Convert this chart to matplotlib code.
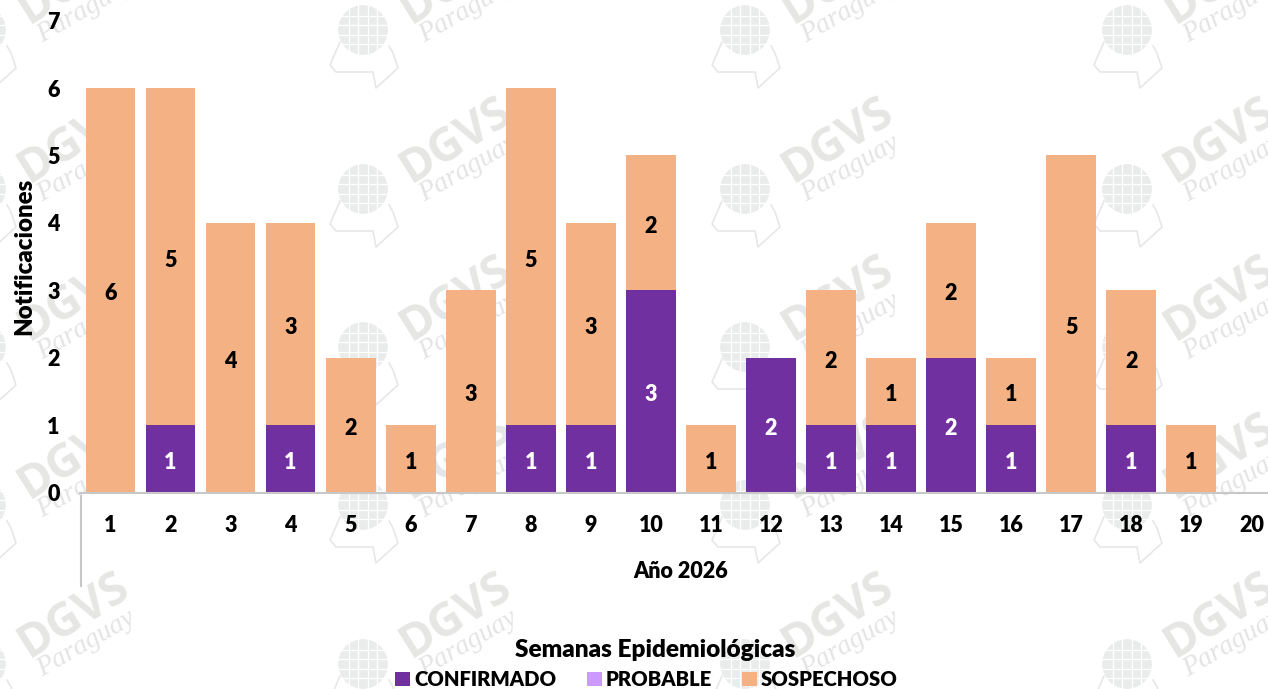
import matplotlib
matplotlib.use('Agg')
import matplotlib.pyplot as plt
from matplotlib.patches import Circle, Rectangle
import numpy as np

plt.rcParams['font.family'] = ['Lato', 'DejaVu Sans']
plt.rcParams['font.weight'] = 'heavy'

semanas = list(range(1, 21))
confirmado = [0, 1, 0, 1, 0, 0, 0, 1, 1, 3, 0, 2, 1, 1, 2, 1, 0, 1, 0, 0]
probable = [0] * 20
sospechoso = [6, 5, 4, 3, 2, 1, 3, 5, 3, 2, 1, 0, 2, 1, 2, 1, 5, 2, 1, 0]
leyenda = ['CONFIRMADO', 'PROBABLE', 'SOSPECHOSO']

COLOR_CONF = '#7030A0'
COLOR_PROB = '#CC99FF'
COLOR_SOSP = '#F4B183'
W, H = 1268, 689


def watermark(bg, cx, cy):
    # globe + map outline + texts, everything in pixels
    gray = '#e6e7e6'
    bg.add_patch(Circle((cx, cy), 25, fc='#eaebeb', ec='none'))
    for dx in (-14, -5, 5, 14):
        bg.plot([cx + dx, cx + dx], [cy - 25, cy + 25], color='white', lw=0.9)
    for dy in (-14, -5, 5, 14):
        bg.plot([cx - 25, cx + 25], [cy + dy, cy + dy], color='white', lw=0.9)
    bg.add_patch(Circle((cx, cy), 27, fc='none', ec='white', lw=3))
    ox = [-23, -33, -27, 10, 13, 35, 30, 26]
    oy = [12, 35, 42, 42, 58, 38, 23, 16]
    bg.plot(np.array(ox) + cx, np.array(oy) + cy, color=gray, lw=1.2)
    bg.text(cx + 93, cy - 49, 'DGVS', color='#e6e6e4', fontsize=33, rotation=32,
            ha='center', va='center', fontweight='bold', family='Open Sans')
    bg.text(cx + 105, cy - 20, 'Paraguay', color='#e4e4e4', fontsize=20, rotation=30,
            ha='center', va='center', fontweight='normal', style='italic',
            family='Liberation Serif')


fig = plt.figure(figsize=(W / 100, H / 100), dpi=100, facecolor='white')

bg = fig.add_axes([0, 0, 1, 1], zorder=0)
bg.set_xlim(0, W)
bg.set_ylim(H, 0)
bg.axis('off')
for gx in (-19, 363, 745, 1127):
    for gy in (30, 189, 347, 505, 664):
        watermark(bg, gx, gy)

# axes box: x 80..1268, y 20.6..492.5 px
ax = fig.add_axes([80.4 / W, 1 - 492.5 / H, (W - 80.4) / W, (492.5 - 20.6) / H], zorder=1)
ax.patch.set_alpha(0)

x = np.array(semanas)
conf = np.array(confirmado)
prob = np.array(probable)
sosp = np.array(sospechoso)
ancho = 0.83
ax.bar(x, conf, ancho, color=COLOR_CONF, edgecolor='none')
ax.bar(x, prob, ancho, bottom=conf, color=COLOR_PROB, edgecolor='none')
ax.bar(x, sosp, ancho, bottom=conf + prob, color=COLOR_SOSP, edgecolor='none')


def etiqueta(xv, yv, txt, color):
    ax.annotate(txt, (xv, yv), xytext=(0, -2.5), textcoords='offset points', color=color,
                ha='center', va='center', fontsize=15.5)


for i in range(len(x)):
    if conf[i] > 0:
        etiqueta(x[i], conf[i] / 2, str(conf[i]), 'white')
    if sosp[i] > 0:
        etiqueta(x[i], conf[i] + sosp[i] / 2, str(sosp[i]), 'black')

ax.set_xlim(0.5, 0.5 + (W - 80.4) / 60.05)
ax.set_ylim(0, 7)
ax.set_xticks(x)
ax.set_xticklabels([str(s) for s in semanas])
ax.set_yticks(range(0, 8))
ax.tick_params(axis='both', length=0, labelsize=15.5)
ax.tick_params(axis='x', pad=16.5)
ax.tick_params(axis='y', pad=15)
for s in ('top', 'right', 'left'):
    ax.spines[s].set_visible(False)
ax.spines['bottom'].set_color('#c8c8c8')
ax.spines['bottom'].set_linewidth(1.5)

# separator of the multi-level category axis
bg.plot([80.5, 80.5], [492.5, 586], color='#c8c8c8', lw=1.5)

fig.text(24 / W, 1 - 256 / H, 'Notificaciones', rotation=90, ha='center', va='center', fontsize=17.3)
fig.text(681 / W, 1 - 571 / H, 'Año 2026', ha='center', va='center', fontsize=15.5)
fig.text(655 / W, 1 - 650 / H, 'Semanas Epidemiológicas', ha='center', va='center', fontsize=17.6)

# legend laid out by hand, the library legend spacing does not fit here
ley_x = [395, 587, 742]
ley_col = [COLOR_CONF, COLOR_PROB, COLOR_SOSP]
for lx, col, nombre in zip(ley_x, ley_col, leyenda):
    bg.add_patch(Rectangle((lx, 672), 15, 14, fc=col, ec='none', zorder=5))
    bg.text(lx + 19, 679, nombre, ha='left', va='center', fontsize=14.6, color='black', zorder=5)

fig.savefig('out.png', dpi=100)
